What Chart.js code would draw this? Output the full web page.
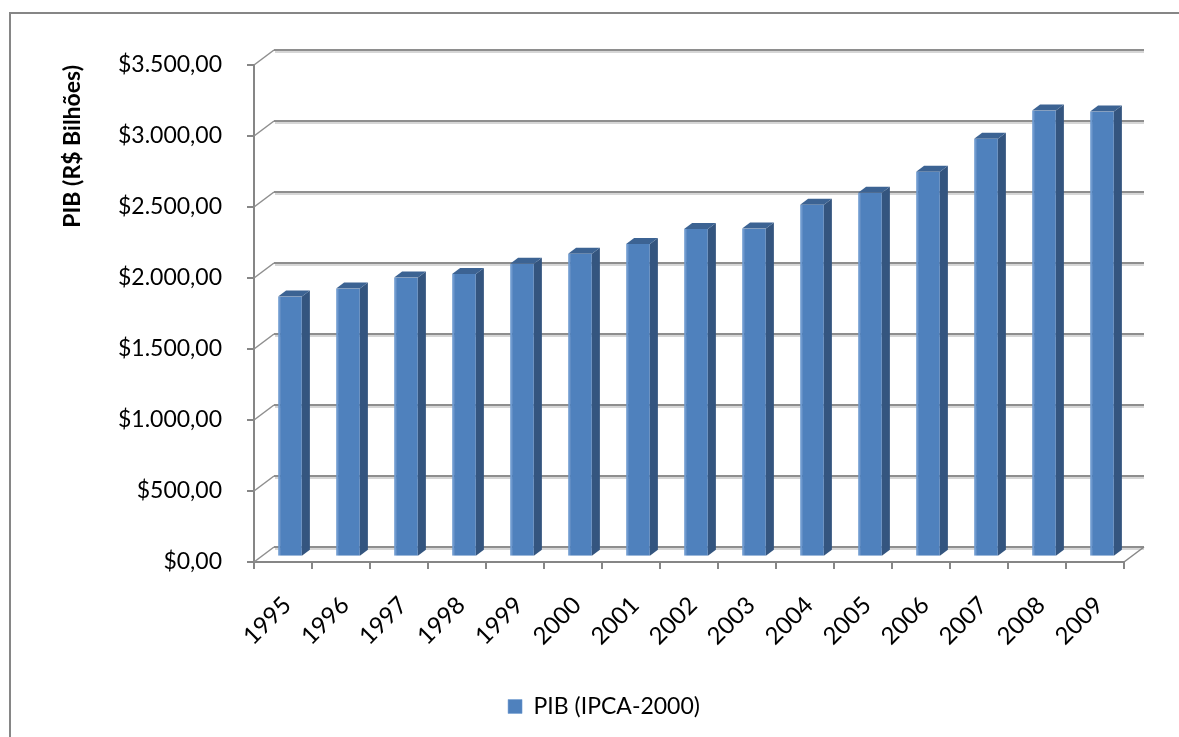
<!DOCTYPE html>
<html lang="pt-BR">
<head>
<meta charset="utf-8">
<title>PIB (IPCA-2000)</title>
<script src="https://cdn.jsdelivr.net/npm/chart.js@4.4.1/dist/chart.umd.min.js"></script>
<style>
  html, body { margin: 0; padding: 0; background: #ffffff; overflow: hidden; }
  #wrap { position: relative; width: 1208px; height: 737px; }
</style>
</head>
<body>
<div id="wrap"><canvas id="chart"></canvas></div>
<script>
// ---- data ----
const years = ['1995', '1996', '1997', '1998', '1999', '2000', '2001', '2002',
               '2003', '2004', '2005', '2006', '2007', '2008', '2009'];
const pibValues = [1833, 1889, 1967, 1991, 2063, 2134, 2202, 2308,
                   2312, 2479, 2564, 2712, 2944, 3142, 3135];
const yTickValues = [0, 500, 1000, 1500, 2000, 2500, 3000, 3500];
const seriesLabel = 'PIB (IPCA-2000)';
const yAxisTitle = 'PIB (R$ Bilhões)';

// ---- look ----
const FONT = 'Lato';
const AXIS_GRAY = '#868686';
const WALL = { dx: 20, dy: -15 };          // offset from front plane to back wall
const BAR_POS = 0.35;                      // bars sit this far into the depth
const BAR_DEPTH = { dx: 8, dy: -6 };       // depth of each column
const FRONT_COLOR = '#4F81BD';
const SIDE_COLOR = '#34557F';
const TOP_COLOR = '#3C6393';

function moneyBR(v) {
  const s = String(Math.round(v)).replace(/\B(?=(\d{3})+(?!\d))/g, '.');
  return '$' + s + ',00';
}

// draws the frame, the back wall grid, the floor and the column faces
const wall3d = {
  id: 'wall3d',
  beforeDraw(chart) {
    const ctx = chart.ctx;
    ctx.save();
    ctx.strokeStyle = AXIS_GRAY;
    ctx.lineWidth = 2;
    ctx.strokeRect(10, 13, chart.width - 20, chart.height + 20);
    ctx.restore();
  },
  beforeDatasetsDraw(chart) {
    const ctx = chart.ctx;
    const y = chart.scales.y;
    const area = chart.chartArea;
    ctx.save();
    yTickValues.forEach(v => {
      const yf = y.getPixelForValue(v);
      const yb = yf + WALL.dy;
      // light shadow under the wall line
      ctx.strokeStyle = '#D6D6D6';
      ctx.lineWidth = 2;
      ctx.beginPath();
      ctx.moveTo(area.left + WALL.dx + 1, yb + 2);
      ctx.lineTo(area.right + WALL.dx, yb + 2);
      ctx.stroke();
      // wall line
      ctx.strokeStyle = '#8E8E8E';
      ctx.lineWidth = 2;
      ctx.beginPath();
      ctx.moveTo(area.left + WALL.dx, yb);
      ctx.lineTo(area.right + WALL.dx, yb);
      ctx.stroke();
      // side wall diagonal
      ctx.lineWidth = 1.5;
      ctx.beginPath();
      ctx.moveTo(area.left, yf);
      ctx.lineTo(area.left + WALL.dx, yb);
      ctx.stroke();
    });
    // right edge of the floor
    const y0 = y.getPixelForValue(0);
    ctx.strokeStyle = AXIS_GRAY;
    ctx.lineWidth = 1.5;
    ctx.beginPath();
    ctx.moveTo(area.right, y0);
    ctx.lineTo(area.right + WALL.dx, y0 + WALL.dy);
    ctx.stroke();
    ctx.restore();

    // columns are drawn in the middle of the depth
    ctx.save();
    ctx.translate(WALL.dx * BAR_POS, WALL.dy * BAR_POS);
  },
  afterDatasetsDraw(chart) {
    const ctx = chart.ctx;
    chart.getSortedVisibleDatasetMetas().forEach(meta => {
      meta.data.forEach(el => {
        const { x, y, base, width } = el.getProps(['x', 'y', 'base', 'width'], true);
        const l = x - width / 2, r = x + width / 2;
        // side face
        ctx.fillStyle = SIDE_COLOR;
        ctx.beginPath();
        ctx.moveTo(r, y);
        ctx.lineTo(r + BAR_DEPTH.dx, y + BAR_DEPTH.dy);
        ctx.lineTo(r + BAR_DEPTH.dx, base + BAR_DEPTH.dy);
        ctx.lineTo(r, base);
        ctx.closePath();
        ctx.fill();
        // top face
        ctx.fillStyle = TOP_COLOR;
        ctx.beginPath();
        ctx.moveTo(l, y);
        ctx.lineTo(l + BAR_DEPTH.dx, y + BAR_DEPTH.dy);
        ctx.lineTo(r + BAR_DEPTH.dx, y + BAR_DEPTH.dy);
        ctx.lineTo(r, y);
        ctx.closePath();
        ctx.fill();
      });
    });
    ctx.restore();
  }
};

function build() {
  new Chart(document.getElementById('chart'), {
    type: 'bar',
    data: {
      labels: years,
      datasets: [{
        label: seriesLabel,
        data: pibValues,
        backgroundColor: FRONT_COLOR,
        borderColor: '#6E9AD0',
        borderWidth: { left: 2, top: 0, right: 0, bottom: 0 },
        borderSkipped: false,
        barPercentage: 0.41,
        categoryPercentage: 1.0
      }]
    },
    options: {
      responsive: true,
      maintainAspectRatio: false,
      animation: false,
      devicePixelRatio: 1,
      layout: { padding: { left: 10, top: 65, right: 10, bottom: 9 } },
      plugins: {
        legend: {
          position: 'bottom',
          onClick: null,
          labels: {
            boxWidth: 14, boxHeight: 14, padding: 10,
            color: '#000', font: { family: FONT, size: 23 }
          }
        },
        tooltip: { enabled: false }
      },
      scales: {
        x: {
          ticks: {
            autoSkip: false, maxRotation: 45, minRotation: 45,
            padding: 22, labelOffset: 4,
            color: '#000', font: { family: FONT, size: 24 }
          },
          grid: { drawOnChartArea: false, offset: true, tickLength: 7, color: AXIS_GRAY, lineWidth: 2 },
          border: { color: AXIS_GRAY, width: 2 },
          afterFit(s) { s.height = 123; }
        },
        y: {
          min: 0, max: 3500,
          afterBuildTicks(s) { s.ticks = yTickValues.map(v => ({ value: v })); },
          ticks: {
            padding: 25, color: '#000', font: { family: FONT, size: 23 },
            callback: v => moneyBR(v)
          },
          grid: { drawOnChartArea: false, tickLength: 7, color: AXIS_GRAY, lineWidth: 2 },
          border: { color: AXIS_GRAY, width: 2 },
          title: {
            display: true, text: yAxisTitle, align: 'end', color: '#000',
            font: { family: FONT, size: 23, weight: 'bold' },
            padding: { top: 49, bottom: 0 }
          },
          afterFit(s) { s.width = 244; }
        },
        // keeps room on the right for the depth of the wall
        depth: {
          type: 'linear', position: 'right', display: true,
          grid: { display: false }, border: { display: false },
          ticks: { display: false },
          afterFit(s) { s.width = 74; }
        }
      }
    },
    plugins: [wall3d]
  });
}

Promise.all([
  document.fonts.load('23px Lato'),
  document.fonts.load('bold 23px Lato')
]).then(build, build);
</script>
</body>
</html>
